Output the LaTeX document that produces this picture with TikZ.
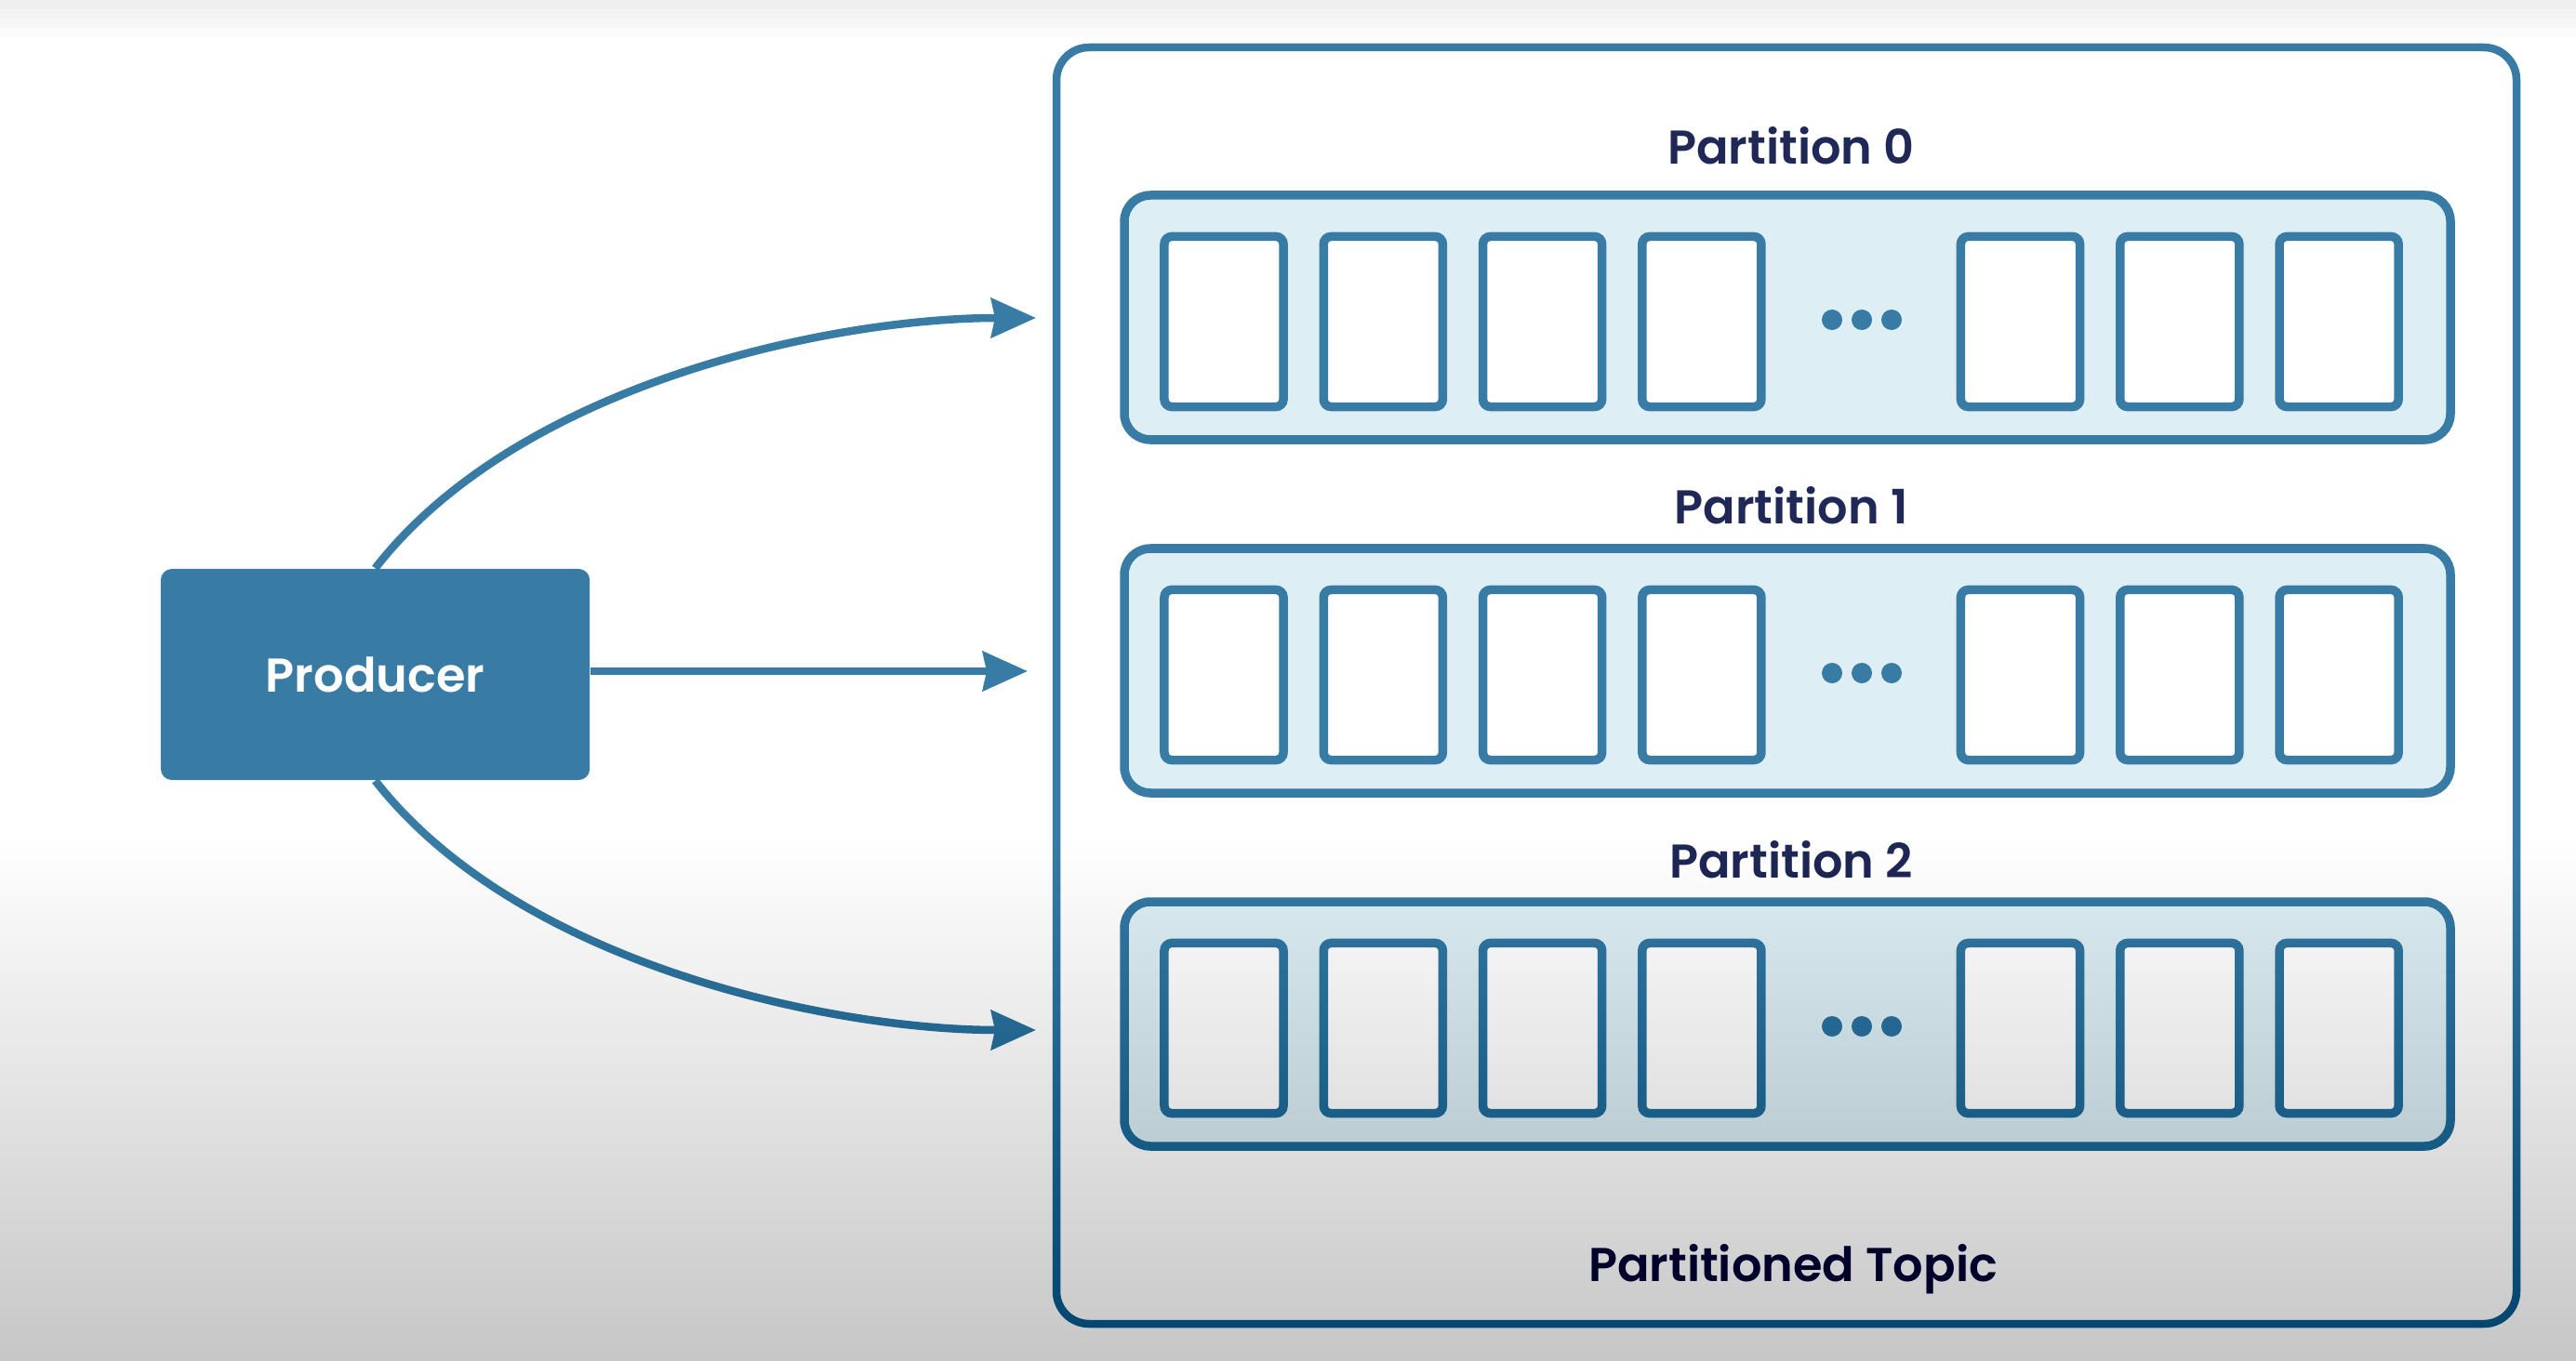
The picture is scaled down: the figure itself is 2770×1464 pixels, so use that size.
\documentclass[tikz,border=0pt]{standalone}
\usepackage{fontspec}
\IfFontExistsTF{Poppins SemiBold}
  {\setmainfont{Poppins}[BoldFont={Poppins SemiBold}]}
  {\setmainfont{Poppins}}
\usetikzlibrary{arrows.meta}
\definecolor{kblue}{RGB}{56,124,166}
\definecolor{knavy}{RGB}{32,40,88}
\definecolor{krow}{RGB}{221,238,244}
\tikzset{
  topicbox/.style={draw=kblue, line width=0.085cm, rounded corners=0.35cm},
  rowbox/.style={draw=kblue, fill=krow, line width=0.095cm, rounded corners=0.28cm},
  cellbox/.style={draw=kblue, fill=white, line width=0.095cm, rounded corners=0.08cm,
    minimum width=1.28cm, minimum height=1.83cm, inner sep=0pt},
  prodbox/.style={fill=kblue, rounded corners=0.12cm, minimum width=4.61cm,
    minimum height=2.27cm, inner sep=0pt, text=white,
    font=\fontsize{14.5pt}{17pt}\selectfont\bfseries},
  plabel/.style={text=knavy, anchor=base, inner sep=0pt,
    font=\fontsize{14.5pt}{17pt}\selectfont\bfseries},
  dotmark/.style={fill=kblue, circle, minimum size=0.22cm, inner sep=0pt},
  flow/.style={draw=kblue, line width=0.085cm,
    -{Stealth[length=0.48cm, width=0.42cm, inset=0.04cm]}}
}
\begin{document}
\begin{tikzpicture}[x=0.01cm, y=-0.01cm]
\useasboundingbox (0,0) rectangle (2770,1464);
\fill[white] (0,0) rectangle (2770,1464);

% topic container
\draw[topicbox] (1136,51) rectangle (2706,1424);

% partitions
\foreach \r/\ty/\lb in {0/210/177, 1/590/563, 2/970/944} {
  \draw[rowbox] (1209,\ty) rectangle (2635,\ty+263);
  \node[plabel] (plab\r) at (1926,\lb) {Partition \r};
  \foreach \k in {0,1,2,3,5,6,7} {
    \node[cellbox] (c\r\k) at ({1316+171.3*\k},\ty+136) {};
  }
  \node[dotmark] (d\r a) at (1970,\ty+134) {};
  \node[dotmark] (d\r b) at (2002,\ty+134) {};
  \node[dotmark] (d\r c) at (2034,\ty+134) {};
}
\node[plabel] (topic) at (1928,1378) {Partitioned Topic};

% producer
\node[prodbox] (prod) at (403.5,725.5) {Producer};

% arrow ends
\coordinate (t0) at (1114,342);
\coordinate (t1) at (1105,722);
\coordinate (t2) at (1114,1108);

\draw[flow] (prod.north) .. controls (560,410) and (900,342) .. (t0);
\draw[flow] (prod.east |- t1) -- (t1);
\draw[flow] (prod.south) .. controls (560,1040) and (900,1108) .. (t2);

% video-like darkening toward the bottom
\foreach \i in {0,...,55} {
  \fill[black, fill opacity=0.0047] (0,904+10*\i) rectangle (2770,1464);
}
\foreach \i in {1,...,4} {
  \fill[black, fill opacity=0.015] (0,0) rectangle (2770,10*\i);
}
\end{tikzpicture}
\end{document}
